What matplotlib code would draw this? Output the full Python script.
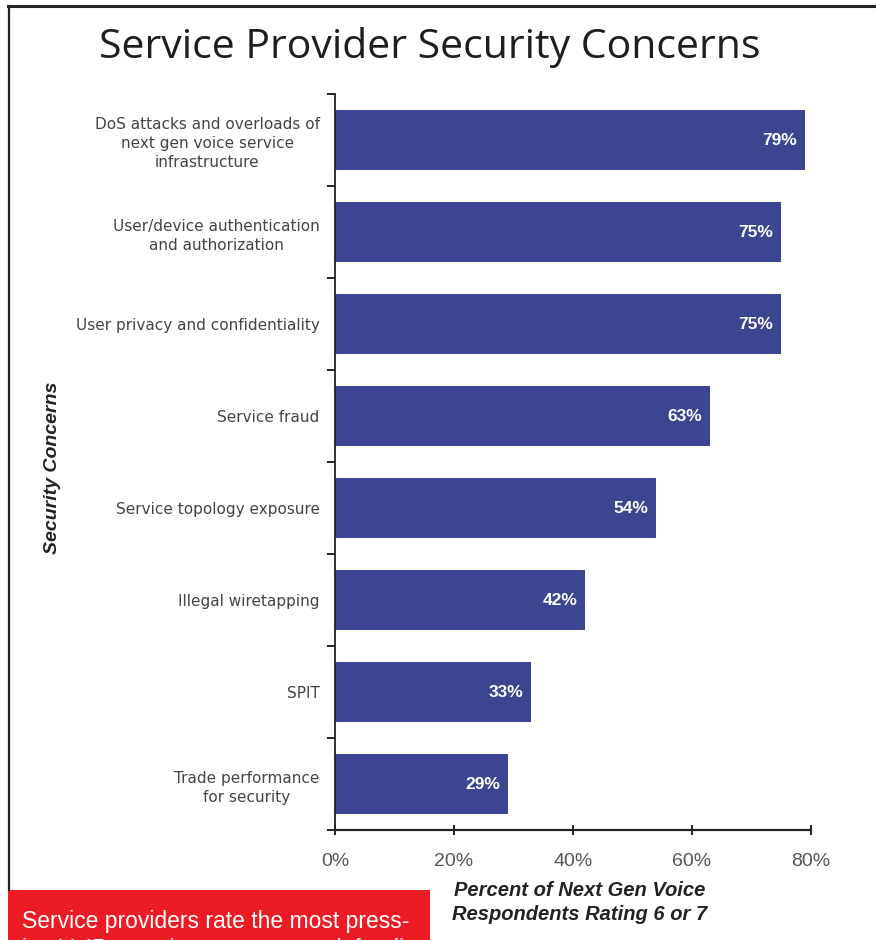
import matplotlib.pyplot as plt
from matplotlib.patches import Rectangle
from matplotlib.lines import Line2D

# Data
concerns = ['DoS attacks and overloads of\nnext gen voice service\ninfrastructure',
            'User/device authentication\nand authorization',
            'User privacy and confidentiality',
            'Service fraud',
            'Service topology exposure',
            'Illegal wiretapping',
            'SPIT',
            'Trade performance\nfor security']
percent = [79, 75, 75, 63, 54, 42, 33, 29]
x_ticks = [0, 20, 40, 60, 80]
x_tick_labels = ['0%', '20%', '40%', '60%', '80%']

bar_color = '#3b4590'

fig = plt.figure(figsize=(8.76, 9.4), dpi=100)
ax = fig.add_axes([0.3824, 0.117, 0.5434, 0.783])

ypos = list(range(len(concerns)))
ax.barh(ypos, percent, height=0.66, color=bar_color, zorder=2)

# value labels inside the bars
for y, v in zip(ypos, percent):
    ax.text(v - 1.3, y, f'{v}%', color='white', fontsize=12.5, fontweight='bold',
            ha='right', va='center', family='Liberation Sans')

ax.set_xlim(0, 80)
ax.set_ylim(len(concerns) - 0.5, -0.5)

ax.set_xticks(x_ticks)
ax.set_xticklabels(x_tick_labels, fontsize=14, color='#555555', family='Liberation Sans')
ax.tick_params(axis='x', direction='inout', length=7, width=1.2, pad=13)

ax.set_yticks(ypos)
ax.set_yticklabels(concerns, fontsize=11, color='#444444', family='DejaVu Sans',
                   linespacing=1.35)
for lab in ax.get_yticklabels():
    lab.set_multialignment('center')
ax.tick_params(axis='y', which='major', length=0, pad=11)
ax.set_yticks([i - 0.5 for i in range(len(concerns) + 1)], minor=True)
ax.tick_params(axis='y', which='minor', length=6, width=1.2, direction='out')

for s in ['top', 'right']:
    ax.spines[s].set_visible(False)
ax.spines['left'].set_linewidth(1.3)
ax.spines['bottom'].set_linewidth(1.6)
ax.spines['left'].set_color('#222222')
ax.spines['bottom'].set_color('#222222')

# Titles
fig.text(0.491, 0.949, 'Service Provider Security Concerns', fontsize=29.5,
         color='#1e1e1e', ha='center', va='center', family='Open Sans')
fig.text(0.06, 0.502, 'Security Concerns', rotation=90, fontsize=14,
         fontweight='bold', fontstyle='italic', color='#222222',
         ha='center', va='center', family='Liberation Sans')
fig.text(0.662, 0.04, 'Percent of Next Gen Voice\nRespondents Rating 6 or 7',
         fontsize=14.5, fontweight='bold', fontstyle='italic', color='#222222',
         ha='center', va='center', linespacing=1.3, family='Liberation Sans')

# page frame lines
fig.add_artist(Line2D([8 / 876, 1], [1 - 6 / 940, 1 - 6 / 940], color='#222222', lw=2.2))
fig.add_artist(Line2D([9 / 876, 9 / 876], [1 - 6 / 940, 1 - 890 / 940], color='#222222', lw=1.6))

# red caption box
fig.add_artist(Rectangle((8 / 876, 0), 422 / 876, 50 / 940, transform=fig.transFigure,
                         facecolor='#ec1c24', edgecolor='none'))
fig.text(22 / 876, 12 / 940, 'Service providers rate the most press-', color='white',
         fontsize=16.5, ha='left', va='baseline',
         family=['Liberation Sans Narrow', 'Liberation Sans'])
fig.text(22 / 876, -16 / 940, 'ing VoIP security concerns as defending', color='white',
         fontsize=16.5, ha='left', va='baseline',
         family=['Liberation Sans Narrow', 'Liberation Sans'])

fig.savefig('out.png', dpi=100)
